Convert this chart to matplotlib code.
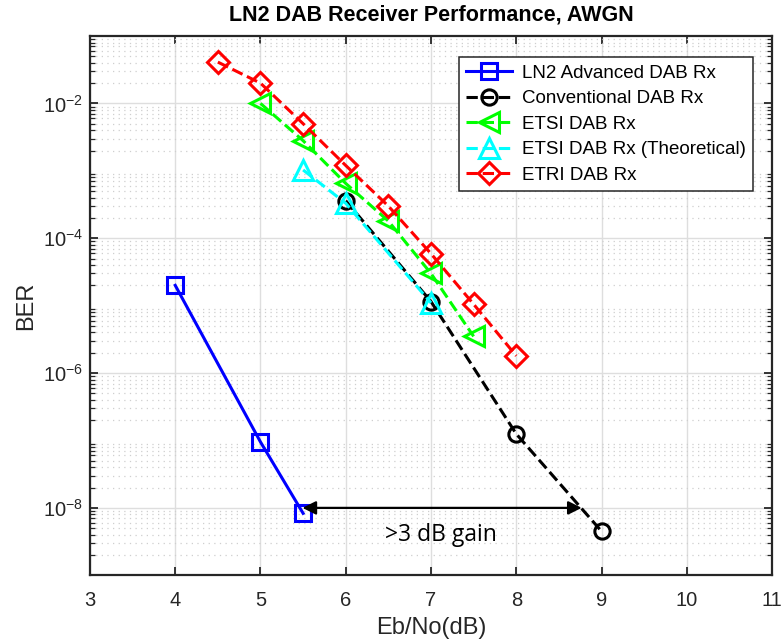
import numpy as np
import matplotlib.pyplot as plt
from matplotlib.ticker import LogLocator, NullFormatter

plt.rcParams['font.family'] = ['Liberation Sans', 'DejaVu Sans']
plt.rcParams['mathtext.fontset'] = 'custom'
plt.rcParams['mathtext.rm'] = 'Liberation Sans'
plt.rcParams['mathtext.it'] = 'Liberation Sans'
plt.rcParams['mathtext.bf'] = 'Liberation Sans:bold'

# data
ebno_ln2 = [4, 5, 5.5]
ber_ln2 = [2e-5, 9.5e-8, 8.3e-9]

ebno_conv = [6, 7, 8, 9]
ber_conv = [3.6e-4, 1.15e-5, 1.25e-7, 4.5e-9]

ebno_etsi = [5, 5.5, 6, 6.5, 7, 7.5]
ber_etsi = [1e-2, 2.8e-3, 6.5e-4, 1.8e-4, 3e-5, 3.5e-6]

ebno_theo = [5.5, 6, 7]
ber_theo = [1.03e-3, 3.3e-4, 1.1e-5]

ebno_etri = [4.5, 5, 5.5, 6, 6.5, 7, 7.5, 8]
ber_etri = [4.1e-2, 2e-2, 5e-3, 1.2e-3, 3e-4, 5.9e-5, 1.05e-5, 1.8e-6]

fig = plt.figure(figsize=(7.81, 6.43), dpi=100)
ax = fig.add_axes([0.1152, 0.1053, 0.8733, 0.8387])

lw = 2.2
ms = 11
ax.semilogy(ebno_ln2, ber_ln2, '-s', color='#0000ff', lw=lw, ms=ms, mew=2.2, mfc='none', label='LN2 Advanced DAB Rx')
ax.semilogy(ebno_conv, ber_conv, '--o', color='black', lw=lw, ms=ms, mew=2.2, mfc='none', label='Conventional DAB Rx')
ax.semilogy(ebno_etsi, ber_etsi, '--<', color='#00ff00', lw=lw, ms=ms + 3, mew=2.2, mfc='none', label='ETSI DAB Rx')
ax.semilogy(ebno_theo, ber_theo, '--^', color='#00ffff', lw=lw, ms=ms + 3, mew=2.2, mfc='none', label='ETSI DAB Rx (Theoretical)')
ax.semilogy(ebno_etri, ber_etri, '--D', color='#ff0000', lw=lw, ms=ms, mew=2.2, mfc='none', label='ETRI DAB Rx')

# gain arrow
ax.annotate('', xy=(5.46, 1e-8), xytext=(8.8, 1e-8),
            arrowprops=dict(arrowstyle='<|-|>', color='black', lw=1.6, mutation_scale=20))
ax.text(7.12, 4e-9, '>3 dB gain', ha='center', va='center', fontsize=16.5, family=['Open Sans', 'DejaVu Sans'])

ax.set_xlim(3, 11)
ax.set_ylim(1e-9, 1e-1)
ax.set_xticks(range(3, 12))
ax.set_yticks([1e-8, 1e-6, 1e-4, 1e-2])
ax.set_yticklabels(['$10^{-8}$', '$10^{-6}$', '$10^{-4}$', '$10^{-2}$'])
ax.yaxis.set_minor_locator(LogLocator(base=10, subs=np.arange(2, 10), numticks=20))
ax.yaxis.set_minor_formatter(NullFormatter())

ax.grid(True, which='major', color='#dedede', lw=1.0)
ax.grid(True, which='minor', axis='y', color='#cfcfcf', lw=0.9, ls=(0, (1, 3.5)))
ax.set_axisbelow(True)

ax.tick_params(which='both', direction='in', top=True, right=True, colors='#262626', labelsize=14.5)
ax.tick_params(axis='x', which='major', pad=11)
ax.tick_params(axis='y', which='major', pad=5)
ax.tick_params(which='major', length=6, width=1.3)
ax.tick_params(which='minor', length=3.5, width=0.9)
for s in ax.spines.values():
    s.set_color('#262626')
    s.set_linewidth(1.6)

ax.set_xlabel('Eb/No(dB)', fontsize=17, color='#262626', labelpad=5)
ax.set_ylabel('BER', fontsize=17, color='#262626', labelpad=4)
ax.set_title('LN2 DAB Receiver Performance, AWGN', fontsize=15.5, fontweight='bold', pad=11)

leg = ax.legend(loc='upper right', bbox_to_anchor=(0.972, 0.961), fontsize=13.5, fancybox=False,
                framealpha=1, edgecolor='#262626', handlelength=2.45, handletextpad=0.5,
                borderpad=0.4, labelspacing=0.45, borderaxespad=0)
leg.get_frame().set_linewidth(1.1)

fig.savefig('out.png', dpi=100)
